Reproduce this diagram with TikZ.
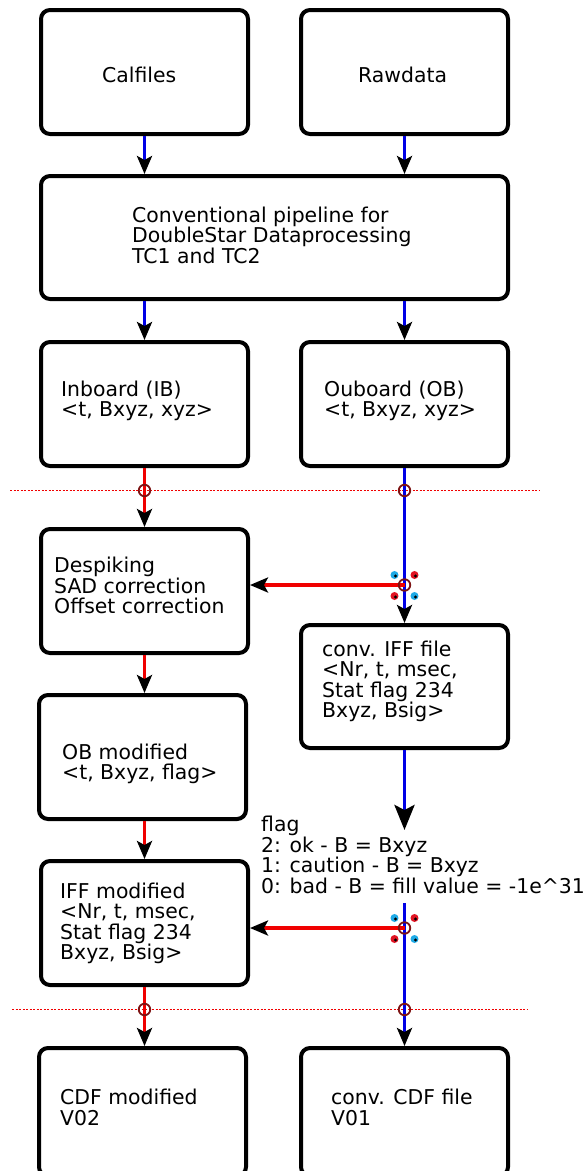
\documentclass[tikz,border=0pt]{standalone}
\usepackage{fontspec}
\setmainfont{DejaVu Sans}
\usetikzlibrary{arrows.meta}
\definecolor{mblue}{RGB}{0,0,230}
\definecolor{mred}{RGB}{240,0,0}
\definecolor{ringc}{RGB}{125,20,20}
\definecolor{dotcyan}{RGB}{30,170,230}
\definecolor{dotred}{RGB}{225,20,35}
\begin{document}
\begin{tikzpicture}[x=1pt,y=-1pt,
  box/.style={draw=black, line width=4pt, rounded corners=9pt, fill=white, inner sep=0pt, rectangle},
  lbl/.style={anchor=base west, inner sep=0pt, align=left, font=\fontsize{20.4}{20.6}\selectfont},
  tip/.style={-{Stealth[length=18pt,width=15pt,inset=4pt,color=black]}},
  bigtip/.style={-{Stealth[length=25pt,width=20pt,inset=5pt,color=black]}},
  bline/.style={draw=mblue, line width=3.2pt},
  rline/.style={draw=mred, line width=3.2pt},
  sep/.style={draw=mred, line width=1.4pt, dash pattern=on 2pt off 1.5pt},
  ringnode/.style={circle, draw=ringc, line width=1.8pt, inner sep=0pt, minimum size=11.5pt},
]
\useasboundingbox (0,0) rectangle (588,1171);

% boxes
\node[box, minimum width=207pt, minimum height=124pt] (cal)  at (144.5,72) {};
\node[box, minimum width=207pt, minimum height=124pt] (raw)  at (404.5,72) {};
\node[box, minimum width=467pt, minimum height=123pt] (pipe) at (274.5,237.5) {};
\node[box, minimum width=207pt, minimum height=124pt] (ib)   at (144.5,404) {};
\node[box, minimum width=207pt, minimum height=124pt] (ob)   at (404.5,404) {};
\node[box, minimum width=207pt, minimum height=124pt] (desp) at (144.5,591) {};
\node[box, minimum width=207pt, minimum height=123pt] (iff)  at (404.5,686.5) {};
\node[box, minimum width=207pt, minimum height=124pt] (obm)  at (142.5,757) {};
\node[box, minimum width=207pt, minimum height=124pt] (iffm) at (144.5,923) {};
\node[box, minimum width=207pt, minimum height=128pt] (cdfm) at (142.5,1112) {};
\node[box, minimum width=207pt, minimum height=128pt] (cdf)  at (404.5,1112) {};

% texts (base anchor = baseline of the last line)
\node[lbl] (tcal)  at (102,82.5) {Calfiles};
\node[lbl] (traw)  at (358,82.5) {Rawdata};
\node[lbl] (tpipe) at (132,263.2) {Conventional pipeline for\\DoubleStar Dataprocessing\\TC1 and TC2};
\node[lbl] (tib)   at (61,416.6) {Inboard (IB)\\<t, Bxyz, xyz>};
\node[lbl] (tob)   at (324,416.6) {Ouboard (OB)\\<t, Bxyz, xyz>};
\node[lbl] (tdesp) at (54,613.7) {Despiking\\SAD correction\\Offset correction};
\node[lbl] (tiff)  at (322,717.8) {conv. IFF file\\<Nr, t, msec,\\Stat flag 234\\Bxyz, Bsig>};
\node[lbl] (tobm)  at (62,779.6) {OB modified\\<t, Bxyz, flag>};
\node[lbl] (tflag) at (261,893.3) {flag\\2: ok - B = Bxyz\\1: caution - B = Bxyz\\0: bad - B = fill value = -1e\textasciicircum31};
\node[lbl] (tiffm) at (60,959.8) {IFF modified\\<Nr, t, msec,\\Stat flag 234\\Bxyz, Bsig>};
\node[lbl] (tcdfm) at (60,1125.1) {CDF modified\\V02};
\node[lbl] (tcdf)  at (331,1125.1) {conv. CDF file\\V01};

% separators
\coordinate (d1a) at (10,490.5);  \coordinate (d1b) at (540,490.5);
\coordinate (d2a) at (12,1009.5); \coordinate (d2b) at (528,1009.5);
\draw[sep] (d1a) -- (d1b);
\draw[sep] (d2a) -- (d2b);

% junctions and free ends
\coordinate (j1) at (404.5,585);
\coordinate (j2) at (404.5,928);
\coordinate (iffend) at (404.5,830);
\coordinate (flagend) at (404.5,903);

% blue connectors
\draw[bline, tip] (cal.south) -- (cal.south |- pipe.north);
\draw[bline, tip] (raw.south) -- (raw.south |- pipe.north);
\draw[bline, tip] (ib.north |- pipe.south) -- (ib.north);
\draw[bline, tip] (ob.north |- pipe.south) -- (ob.north);
\draw[bline, tip] (ob.south) -- (iff.north);
\draw[bline, line width=3.8pt, bigtip] (iff.south) -- (iffend);
\draw[bline, tip] (flagend) -- (cdf.north);

% red connectors
\draw[rline, tip] (ib.south) -- (ib.south |- desp.north);
\draw[rline, tip] (j1) -- (j1 -| desp.east);
\draw[rline, tip] (desp.south) -- (desp.south |- obm.north);
\draw[rline, tip] (iffm.north |- obm.south) -- (iffm.north);
\draw[rline, tip] (j2) -- (j2 -| iffm.east);
\draw[rline, tip] (iffm.south) -- (iffm.south |- cdfm.north);

% rings
\node[ringnode] (r1) at (144.5,490.5) {};
\node[ringnode] (r2) at (404.5,490.5) {};
\node[ringnode] (r3) at (j1) {};
\node[ringnode] (r4) at (j2) {};
\node[ringnode] (r5) at (144.5,1009.5) {};
\node[ringnode] (r6) at (404.5,1009.5) {};

% junction dots
\foreach \j in {j1,j2}{
  \foreach \dx/\dy/\c in {-10/-10/dotcyan, 10/-10/dotred, -10/11/dotred, 10/11/dotcyan}{
    \fill[\c, shift={(\j)}] (\dx,\dy) circle (4pt);
    \fill[black, shift={(\j)}] (\dx+1,\dy+1) circle (1.7pt);
  }
}
\end{tikzpicture}
\end{document}
